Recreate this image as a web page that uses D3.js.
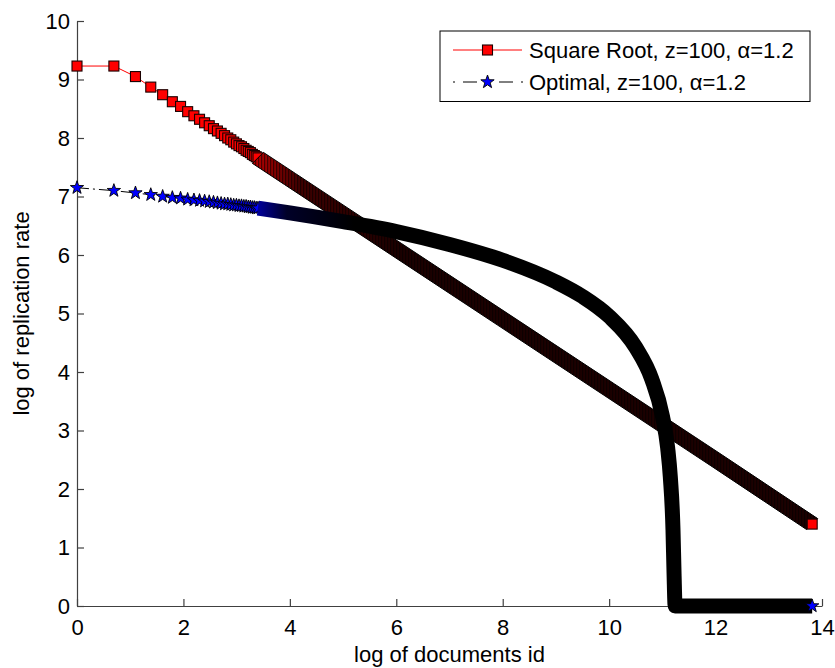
<!DOCTYPE html>
<html>
<head>
<meta charset="utf-8">
<script src="https://cdn.jsdelivr.net/npm/d3@7"></script>
<style>
  html, body { margin: 0; padding: 0; background: #fff; }
  svg { display: block; font-family: "Liberation Sans", Arial, Helvetica, sans-serif; }
</style>
</head>
<body>
<svg id="chart" width="835" height="668"></svg>
<script>
// Documents drawn with individual markers (ids 1..30)
const markerIds = [1, 2, 3, 4, 5, 6, 7, 8, 9, 10, 11, 12, 13, 14, 15,
                   16, 17, 18, 19, 20, 21, 22, 23, 24, 25, 26, 27, 28, 29, 30];

// log of replication rate for those documents
const sqrtRate = [9.23, 9.23, 9.05, 8.87, 8.74, 8.62, 8.54, 8.45, 8.38, 8.32,
                  8.26, 8.21, 8.16, 8.12, 8.08, 8.04, 8.00, 7.97, 7.93, 7.90,
                  7.87, 7.85, 7.82, 7.79, 7.77, 7.75, 7.72, 7.70, 7.68, 7.66];
const optRate  = [7.15, 7.10, 7.06, 7.03, 7.00, 6.98, 6.97, 6.95, 6.94, 6.93,
                  6.92, 6.91, 6.90, 6.89, 6.88, 6.87, 6.87, 6.86, 6.85, 6.85,
                  6.84, 6.84, 6.83, 6.83, 6.82, 6.82, 6.81, 6.81, 6.80, 6.80];

// Dense tail of the catalogue (ids > 30), sampled along log of document id
const sqrtTailLogId = [3.40, 4, 6, 8, 10, 12, 13.8155];
const sqrtTailRate  = [7.66, 7.30, 6.10, 4.90, 3.70, 2.50, 1.40];
const optTailLogId  = [3.40, 4, 5, 6, 7, 8, 9, 9.5, 10, 10.5, 10.8, 11.0, 11.1, 11.15, 11.2, 11.22, 11.24, 13.8155];
const optTailRate   = [6.80, 6.72, 6.57, 6.40, 6.18, 5.91, 5.54, 5.29, 4.95, 4.42, 3.88, 3.25, 2.70, 2.20, 1.30, 0.55, 0, 0];

// Last document of the catalogue
const lastId = 1000000;
const sqrtLastRate = 1.40;
const optLastRate = 0;

const xTicks = [0, 2, 4, 6, 8, 10, 12, 14];
const yTicks = [0, 1, 2, 3, 4, 5, 6, 7, 8, 9, 10];
const seriesNames = ["Square Root, z=100, \u03b1=1.2", "Optimal, z=100, \u03b1=1.2"];
const xTitle = "log of documents id";
const yTitle = "log of replication rate";

const svg = d3.select("#chart");
const x = d3.scaleLinear().domain([0, 14]).range([77, 822]);
const y = d3.scaleLinear().domain([0, 10]).range([606, 21]);

const FONT = 22;
const axisColor = "#404040";

// ---- axes (inward ticks, no box) ----
const gx = svg.append("g").attr("transform", `translate(0,${y(0)})`)
  .call(d3.axisBottom(x).tickValues(xTicks).tickFormat(d3.format("d"))
        .tickSizeInner(-7).tickSizeOuter(0).tickPadding(13));
const gy = svg.append("g").attr("transform", `translate(${x(0)},0)`)
  .call(d3.axisLeft(y).tickValues(yTicks).tickFormat(d3.format("d"))
        .tickSizeInner(-7).tickSizeOuter(0).tickPadding(7));
[gx, gy].forEach(g => {
  g.select(".domain").attr("stroke", axisColor).attr("stroke-width", 1.2);
  g.selectAll(".tick line").attr("stroke", axisColor).attr("stroke-width", 1.2);
  g.selectAll(".tick text").attr("fill", "#000").style("font-size", FONT + "px")
    .style("font-family", '"Liberation Sans", Arial, Helvetica, sans-serif');
});

svg.append("text").attr("x", (x(0) + x(14)) / 2).attr("y", 662)
  .attr("text-anchor", "middle").style("font-size", FONT + "px").text(xTitle);
svg.append("text")
  .attr("transform", `translate(29,${(y(0) + y(10)) / 2}) rotate(-90)`)
  .attr("text-anchor", "middle").style("font-size", FONT + "px").text(yTitle);

// ---- defs: gradients for the dense marker bands, stripe texture ----
const defs = svg.append("defs");
const gRed = defs.append("linearGradient").attr("id", "sqrtBand")
  .attr("gradientUnits", "userSpaceOnUse")
  .attr("x1", x(3.4)).attr("x2", x(6)).attr("y1", 0).attr("y2", 0);
gRed.append("stop").attr("offset", 0).attr("stop-color", "#b00000");
gRed.append("stop").attr("offset", 0.3).attr("stop-color", "#400000");
gRed.append("stop").attr("offset", 1).attr("stop-color", "#1c0000");

const gBlue = defs.append("linearGradient").attr("id", "optBand")
  .attr("gradientUnits", "userSpaceOnUse")
  .attr("x1", x(3.4)).attr("x2", x(5.2)).attr("y1", 0).attr("y2", 0);
gBlue.append("stop").attr("offset", 0).attr("stop-color", "#00009a");
gBlue.append("stop").attr("offset", 0.3).attr("stop-color", "#000028");
gBlue.append("stop").attr("offset", 1).attr("stop-color", "#000000");

const pat = defs.append("pattern").attr("id", "stripes")
  .attr("patternUnits", "userSpaceOnUse").attr("width", 3).attr("height", 10);
pat.append("rect").attr("x", 0).attr("y", 0).attr("width", 1.2).attr("height", 10)
  .attr("fill", "#000").attr("fill-opacity", 0.55);

// ---- marker shapes ----
function starPath(r) {
  const pts = [];
  for (let i = 0; i < 10; i++) {
    const rr = i % 2 === 0 ? r : r * 0.40;
    const a = -Math.PI / 2 + i * Math.PI / 5;
    pts.push([rr * Math.cos(a), rr * Math.sin(a)]);
  }
  return "M" + pts.map(p => p[0].toFixed(2) + "," + p[1].toFixed(2)).join("L") + "Z";
}
const STAR = starPath(7);
const SQ = 10;

const sqrtMarkers = markerIds.map((id, i) => ({ lx: Math.log(id), v: sqrtRate[i] }));
const optMarkers  = markerIds.map((id, i) => ({ lx: Math.log(id), v: optRate[i] }));
const sqrtTail = sqrtTailLogId.map((lx, i) => ({ lx, v: sqrtTailRate[i] }));
const optTail  = optTailLogId.map((lx, i) => ({ lx, v: optTailRate[i] }));
const sqrtLast = { lx: Math.log(lastId), v: sqrtLastRate };
const optLast  = { lx: Math.log(lastId), v: optLastRate };

const lineGen = d3.line().x(d => x(d.lx)).y(d => y(d.v));

// ---- Square Root series ----
const gS = svg.append("g");
gS.append("path").datum(sqrtMarkers.concat(sqrtTail))
  .attr("d", lineGen).attr("fill", "none").attr("stroke", "#ff0000").attr("stroke-width", 1);
gS.selectAll("rect.m").data(sqrtMarkers).join("rect").attr("class", "m")
  .attr("x", d => x(d.lx) - SQ / 2).attr("y", d => y(d.v) - SQ / 2)
  .attr("width", SQ).attr("height", SQ)
  .attr("fill", "#ff0000").attr("stroke", "#1a0000").attr("stroke-width", 1.1);
// band swept out by the overlapping square markers of the tail
const h = SQ / 2 + 0.5;
const bandArea = d3.area()
  .x0(d => x(d.lx) - h).y0(d => y(d.v) + h)
  .x1(d => x(d.lx) + h).y1(d => y(d.v) - h);
gS.append("path").datum(sqrtTail).attr("d", bandArea)
  .attr("fill", "url(#sqrtBand)").attr("stroke", "#000").attr("stroke-width", 1);
gS.append("path").datum(sqrtTail).attr("d", bandArea).attr("fill", "url(#stripes)");
gS.append("rect")
  .attr("x", x(sqrtLast.lx) - SQ / 2).attr("y", y(sqrtLast.v) - SQ / 2)
  .attr("width", SQ).attr("height", SQ)
  .attr("fill", "#ff0000").attr("stroke", "#1a0000").attr("stroke-width", 1.1);

// ---- Optimal series ----
const gO = svg.append("g");
gO.append("path").datum(optMarkers.concat(optTail.slice(0, 2)))
  .attr("d", lineGen).attr("fill", "none").attr("stroke", "#000")
  .attr("stroke-width", 1).attr("stroke-dasharray", "12,4,2,4");
gO.selectAll("path.m").data(optMarkers).join("path").attr("class", "m")
  .attr("d", STAR).attr("transform", d => `translate(${x(d.lx)},${y(d.v)})`)
  .attr("fill", "#0000ff").attr("stroke", "#000").attr("stroke-width", 0.9);
gO.append("path").datum(optTail)
  .attr("d", lineGen.curve(d3.curveMonotoneX))
  .attr("fill", "none").attr("stroke", "url(#optBand)")
  .attr("stroke-width", 15).attr("stroke-linejoin", "round").attr("stroke-linecap", "butt");
gO.append("path").attr("d", STAR)
  .attr("transform", `translate(${x(optLast.lx)},${y(optLast.v)})`)
  .attr("fill", "#0000ff").attr("stroke", "#000").attr("stroke-width", 0.9);

// ---- legend ----
const lg = svg.append("g");
lg.append("rect").attr("x", 440).attr("y", 31).attr("width", 370).attr("height", 70.5)
  .attr("fill", "#fff").attr("stroke", "#000").attr("stroke-width", 1);
const rows = [50, 82];
lg.append("line").attr("x1", 453).attr("x2", 522).attr("y1", rows[0]).attr("y2", rows[0])
  .attr("stroke", "#ff0000").attr("stroke-width", 1);
lg.append("rect").attr("x", 487.5 - SQ / 2).attr("y", rows[0] - SQ / 2)
  .attr("width", SQ).attr("height", SQ)
  .attr("fill", "#ff0000").attr("stroke", "#1a0000").attr("stroke-width", 1.1);
lg.append("line").attr("x1", 453).attr("x2", 523).attr("y1", rows[1]).attr("y2", rows[1])
  .attr("stroke", "#000").attr("stroke-width", 1).attr("stroke-dasharray", "2,8,14,22,14,8,2");
lg.append("path").attr("d", STAR).attr("transform", `translate(487.5,${rows[1]})`)
  .attr("fill", "#0000ff").attr("stroke", "#000").attr("stroke-width", 0.9);
lg.selectAll("text.l").data(seriesNames).join("text").attr("class", "l")
  .attr("x", 529).attr("y", (d, i) => rows[i] + 8)
  .style("font-size", FONT + "px").text(d => d);
</script>
</body>
</html>
